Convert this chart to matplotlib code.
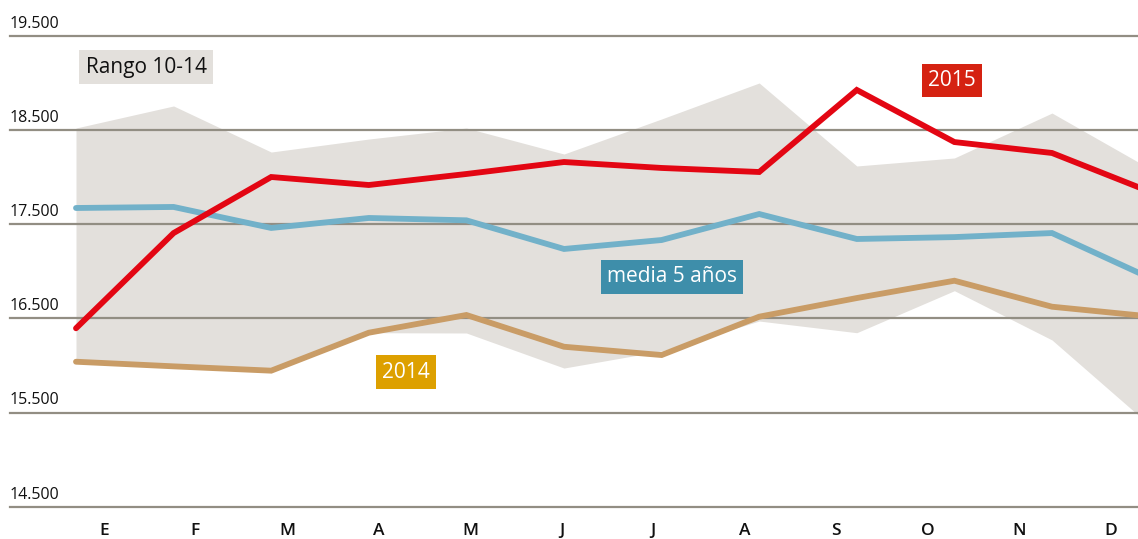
import matplotlib
matplotlib.use("Agg")
import matplotlib.pyplot as plt
import numpy as np

plt.rcParams['font.family'] = ['Open Sans', 'DejaVu Sans']

months = ["E", "F", "M", "A", "M", "J", "J", "A", "S", "O", "N", "D"]
y2015 = [16394, 17405, 18000, 17915, 18032, 18159, 18096, 18053, 18924, 18371, 18255, 17845]
media5 = [17671, 17682, 17459, 17565, 17540, 17236, 17331, 17607, 17342, 17362, 17405, 16930]
y2014 = [16039, 15990, 15944, 16347, 16535, 16198, 16110, 16517, 16715, 16899, 16623, 16520]
rango_hi = [18520, 18754, 18265, 18403, 18520, 18244, 18616, 18998, 18117, 18202, 18679, 18090]
rango_lo = [16039, 15990, 15944, 16347, 16344, 15972, 16153, 16471, 16347, 16793, 16270, 15367]
yticks = [14500, 15500, 16500, 17500, 18500, 19500]
ytick_labels = ["14.500", "15.500", "16.500", "17.500", "18.500", "19.500"]

RED = "#e30613"
BLUE = "#72b1c9"
TAN = "#c99c66"
BAND = "#e3e0dc"
GRID = "#928e83"

W, H = 1138, 539
fig = plt.figure(figsize=(W / 100, H / 100), dpi=100)
# axes spans x from 10px to right edge, y from 14500 (506.7px) to 19500 (35.7px)
ax = fig.add_axes([10 / W, (H - 506.7) / H, (W - 10) / W, 471 / H])
x = np.arange(len(months))
step = 97.6
x0 = 76
ax.set_xlim((10 - x0) / step, (W - x0) / step)
ax.set_ylim(14500, 19500)
for s in ax.spines.values():
    s.set_visible(False)

ax.fill_between(x, rango_lo, rango_hi, color=BAND, lw=0, zorder=1)
for v in yticks:
    ax.axhline(v, color=GRID, lw=1.6, zorder=2, clip_on=False)
ax.plot(x, y2014, color=TAN, lw=4.2, zorder=3, solid_capstyle='round', solid_joinstyle='miter')
ax.plot(x, media5, color=BLUE, lw=4.2, zorder=4, solid_capstyle='round', solid_joinstyle='miter')
ax.plot(x, y2015, color=RED, lw=4.2, zorder=5, solid_capstyle='round', solid_joinstyle='miter')

# y labels
ax.set_yticks([])
for v, lab in zip(yticks, ytick_labels):
    ax.annotate(lab, xy=(0, v), xycoords=('axes fraction', 'data'),
                xytext=(0, 3), textcoords='offset points', ha='left', va='bottom',
                fontsize=11.5, color='#111111', annotation_clip=False)

# month labels
label_pos = [((104 - x0) + 91.5 * i) / step for i in range(len(months))]
ax.set_xticks(label_pos, labels=months)
ax.tick_params(axis='x', length=0, pad=12, labelsize=12.5, labelcolor='#111111')
for t in ax.get_xticklabels():
    t.set_fontweight('semibold')

# series labels
def px2data(px, py):
    return (px - x0) / step, 19500 - (py - 35.7) * 1000 / 94.2

for txt, (px, py), fc, tc in [
    ("Rango 10-14", (146, 67), BAND, "#111111"),
    ("2015", (952, 80.5), "#d52211", "white"),
    ("media 5 años", (672, 277), "#3e8eaa", "white"),
    ("2014", (406, 372), "#dda000", "white"),
]:
    dx, dy = px2data(px, py)
    ax.text(dx, dy, txt, ha='center', va='center', fontsize=15, color=tc, zorder=6,
            bbox=dict(boxstyle='square,pad=0.3', fc=fc, ec='none'))

fig.savefig("out.png", dpi=100)
